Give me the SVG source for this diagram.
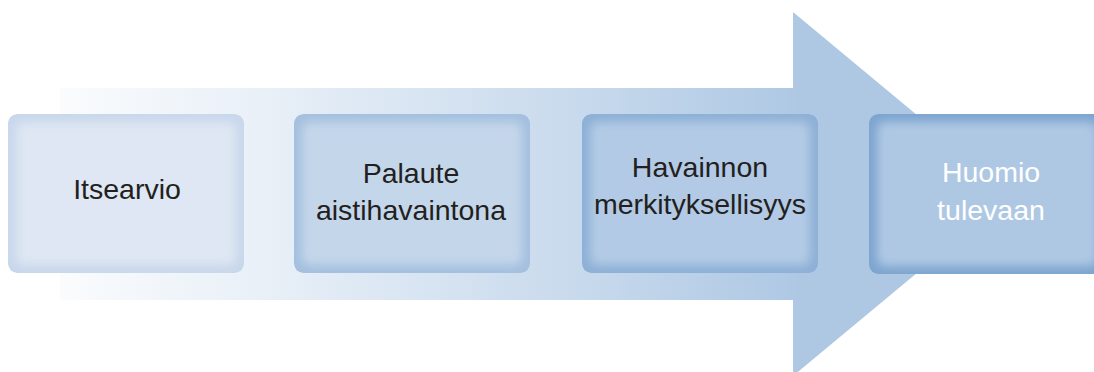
<svg xmlns="http://www.w3.org/2000/svg" width="1094" height="372" viewBox="0 0 1094 372">
<defs>
<linearGradient id="ag" x1="60" y1="0" x2="800" y2="0" gradientUnits="userSpaceOnUse">
<stop offset="0" stop-color="#aec8e4" stop-opacity="0.06"/>
<stop offset="0.3" stop-color="#aec8e4" stop-opacity="0.3"/>
<stop offset="0.7" stop-color="#aec8e4" stop-opacity="0.68"/>
<stop offset="1" stop-color="#aec8e4" stop-opacity="1"/>
</linearGradient>
<filter id="blur" x="-10%" y="-10%" width="120%" height="120%"><feGaussianBlur stdDeviation="5"/></filter>
<clipPath id="c1"><rect x="8" y="114" width="236" height="159" rx="9"/></clipPath>
<clipPath id="c2"><rect x="294" y="114" width="236" height="159" rx="9"/></clipPath>
<clipPath id="c3"><rect x="582" y="114" width="236" height="159" rx="9"/></clipPath>
<clipPath id="c4"><rect x="869" y="114" width="236" height="160" rx="9"/></clipPath>
</defs>
<style>
text{font-family:"Liberation Sans",Arial,sans-serif;font-size:28.5px;text-anchor:middle;fill:#231f20}
.w{fill:#ffffff}
</style>
<g id="arrow">
<path d="M60 88 H793 V12 L1012 194 L793 376 V300 H60 Z" fill="url(#ag)"/>
</g>
<g id="node1">
<g clip-path="url(#c1)">
<rect x="8" y="114" width="236" height="159" rx="9" fill="#c8d7eb"/>
<rect x="16" y="122" width="220" height="143" rx="8" fill="#dee7f3" filter="url(#blur)"/>
</g>
<text x="127" y="199">Itsearvio</text>
</g>
<g id="node2">
<g clip-path="url(#c2)">
<rect x="294" y="114" width="236" height="159" rx="9" fill="#a4c0df"/>
<rect x="302" y="122" width="220" height="143" rx="8" fill="#c4d6ea" filter="url(#blur)"/>
</g>
<text x="411" y="183">Palaute</text>
<text x="411" y="220">aistihavaintona</text>
</g>
<g id="node3">
<g clip-path="url(#c3)">
<rect x="582" y="114" width="236" height="159" rx="9" fill="#8eb0d6"/>
<rect x="590" y="122" width="220" height="143" rx="8" fill="#b2cae5" filter="url(#blur)"/>
</g>
<text x="700" y="177">Havainnon</text>
<text x="700" y="214">merkityksellisyys</text>
</g>
<g id="node4">
<g clip-path="url(#c4)">
<rect x="869" y="114" width="236" height="160" rx="9" fill="#7ea5cf"/>
<rect x="877" y="122" width="220" height="144" rx="8" fill="#aec8e4" filter="url(#blur)"/>
</g>
<text class="w" x="991" y="182">Huomio</text>
<text class="w" x="991" y="220">tulevaan</text>
</g>
<g id="connectors"></g>
</svg>
